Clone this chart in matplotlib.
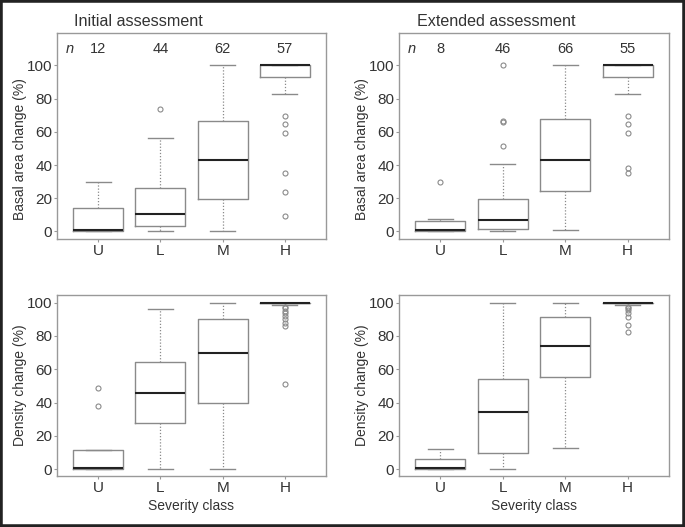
import matplotlib
matplotlib.use("Agg")
import matplotlib.pyplot as plt
from matplotlib.patches import Rectangle

plt.rcParams['font.family'] = ['Liberation Sans', 'DejaVu Sans']

classes = ['U', 'L', 'M', 'H']

# Initial assessment - basal area change
ib_lo = [0, 0, 0, 83]
ib_q1 = [0, 3, 19.5, 93]
ib_med = [0.8, 10.3, 43.2, 100]
ib_q3 = [14.2, 26.3, 66.5, 100]
ib_hi = [29.8, 56.4, 100, 100]
ib_fliers = [[], [74], [], [69.4, 64.5, 59.6, 35, 24, 9.2]]
ib_n = [12, 44, 62, 57]

# Extended assessment - basal area change
eb_lo = [0, 0, 1, 83]
eb_q1 = [0, 1.4, 24.2, 93]
eb_med = [0.7, 6.6, 43.2, 100]
eb_q3 = [6, 19.8, 68, 100]
eb_hi = [7.3, 40.8, 100, 100]
eb_fliers = [[29.8], [51.4, 65.7, 66.3, 100], [], [69.4, 64.5, 59.6, 38.2, 35]]
eb_n = [8, 46, 66, 55]

# Initial assessment - density change
id_lo = [0, 0, 0, 98.6]
id_q1 = [0, 27.8, 39.6, 99.6]
id_med = [0.8, 45.6, 70, 100]
id_q3 = [11.4, 64.4, 90, 100]
id_hi = [11.8, 96, 100, 100]
id_fliers = [[48.8, 38.2], [], [], [97.6, 96.6, 95.2, 93.6, 92, 90.4, 88, 86, 51.2]]

# Extended assessment - density change
ed_lo = [0, 0, 12.8, 98.4]
ed_q1 = [0, 10, 55.6, 99.6]
ed_med = [0.5, 34.2, 74.2, 100]
ed_q3 = [6, 54.2, 91.4, 100]
ed_hi = [12, 100, 100, 100]
ed_fliers = [[], [], [], [97.6, 96.8, 95.6, 93.8, 91.4, 86.6, 82.2]]

edge = '#8a8a8a'
txt = '#333333'


def make_stats(lo, q1, med, q3, hi, fliers):
    return [dict(whislo=lo[i], q1=q1[i], med=med[i], q3=q3[i], whishi=hi[i],
                 fliers=fliers[i]) for i in range(len(classes))]


def draw_panel(ax, stats, ylabel, ylim, label_y, n=None, xlabel=None, title=None):
    ax.bxp(stats, positions=range(1, 5), widths=0.8, capwidths=0.4,
           showfliers=True,
           boxprops=dict(color=edge, linewidth=1.0),
           medianprops=dict(color='#222222', linewidth=1.5),
           whiskerprops=dict(color=edge, linewidth=0.9, linestyle=(0, (1, 1.5))),
           capprops=dict(color=edge, linewidth=1.0),
           flierprops=dict(marker='o', markersize=3.6, markerfacecolor='none',
                           markeredgecolor=edge, markeredgewidth=0.8))
    ax.set_xlim(0.34, 4.66)
    ax.set_ylim(*ylim)
    ax.set_yticks([0, 20, 40, 60, 80, 100])
    ax.set_xticks(range(1, 5))
    ax.set_xticklabels(classes)
    for s in ax.spines.values():
        s.set_color('#999999')
        s.set_linewidth(1.0)
    ax.tick_params(colors='#999999', labelcolor=txt, labelsize=11, length=2.5,
                   width=0.8, pad=1)
    ax.set_ylabel(ylabel, fontsize=10, color=txt)
    ax.yaxis.set_label_coords(-0.113, label_y)
    if n is not None:
        ax.text(0.55, 110, 'n', style='italic', fontsize=10.5, color=txt, ha='center', va='center')
        for i, v in enumerate(n):
            ax.text(i + 1, 110, str(v), fontsize=10.5, color=txt, ha='center', va='center')
    if xlabel:
        ax.set_xlabel(xlabel, fontsize=10, color=txt, labelpad=3)
    if title:
        ax.set_title(title, fontsize=11.6, color=txt, loc='left', x=0.065, pad=5)


fig = plt.figure(figsize=(6.85, 5.27), dpi=100)
ax1 = fig.add_axes([0.0832, 0.5465, 0.3927, 0.3909])
ax2 = fig.add_axes([0.5825, 0.5465, 0.394, 0.3909])
ax3 = fig.add_axes([0.0832, 0.0968, 0.3927, 0.3435])
ax4 = fig.add_axes([0.5825, 0.0968, 0.394, 0.3435])

draw_panel(ax1, make_stats(ib_lo, ib_q1, ib_med, ib_q3, ib_hi, ib_fliers),
           'Basal area change (%)', (-4.6, 119.6), 0.437, n=ib_n, title='Initial assessment')
draw_panel(ax2, make_stats(eb_lo, eb_q1, eb_med, eb_q3, eb_hi, eb_fliers),
           'Basal area change (%)', (-4.6, 119.6), 0.437, n=eb_n, title='Extended assessment')
draw_panel(ax3, make_stats(id_lo, id_q1, id_med, id_q3, id_hi, id_fliers),
           'Density change (%)', (-4, 104.6), 0.5, xlabel='Severity class')
draw_panel(ax4, make_stats(ed_lo, ed_q1, ed_med, ed_q3, ed_hi, ed_fliers),
           'Density change (%)', (-4, 104.6), 0.5, xlabel='Severity class')

fig.patches.append(Rectangle((0, 0), 1, 1, transform=fig.transFigure, fill=False,
                             edgecolor='#222222', linewidth=4))

fig.savefig('out.png', dpi=100)
